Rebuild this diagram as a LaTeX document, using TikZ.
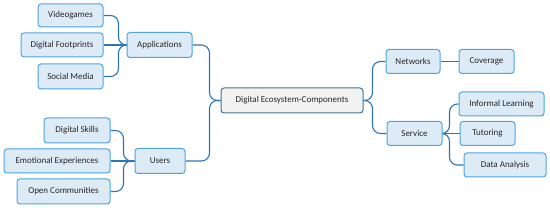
\documentclass[tikz,border=0pt]{standalone}
\usepackage{fontspec}
\setmainfont{Carlito}
\usetikzlibrary{backgrounds}
\definecolor{boxfill}{HTML}{DDEBF7}
\definecolor{boxline}{HTML}{4FA3E0}
\definecolor{conline}{HTML}{2E75B6}
\definecolor{cfill}{HTML}{F2F2F2}
\definecolor{cline}{HTML}{41719C}
\definecolor{txt}{HTML}{262626}
\tikzset{
  bx/.style={draw=boxline, fill=boxfill, line width=1pt, rounded corners=3pt, inner sep=0pt, text=txt, font=\fontsize{9}{11}\selectfont},
  cbx/.style={draw=cline, fill=cfill, line width=1pt, rounded corners=3pt, inner sep=0pt, text=txt, font=\fontsize{9}{11}\selectfont},
  conn/.style={draw=conline, line width=1.1pt, rounded corners=8pt}
}
\begin{document}
\begin{tikzpicture}[x=1pt,y=-1pt]
\useasboundingbox (0,0) rectangle (550,208);
\node[cbx, minimum width=142pt, minimum height=25pt] (ctr) at (292,100.5) {Digital Ecosystem-Components};
\node[bx, minimum width=65pt, minimum height=25pt] (app) at (159.5,45) {Applications};
\node[bx, minimum width=65pt, minimum height=23pt] (vg) at (70.5,15.5) {Videogames};
\node[bx, minimum width=82pt, minimum height=24pt] (df) at (62,45) {Digital Footprints};
\node[bx, minimum width=65pt, minimum height=25pt] (sm) at (70.5,76.5) {Social Media};
\node[bx, minimum width=50pt, minimum height=25pt] (usr) at (160,161) {Users};
\node[bx, minimum width=66pt, minimum height=25pt] (ds) at (77,130.5) {Digital Skills};
\node[bx, minimum width=106pt, minimum height=24pt] (ee) at (57,161) {Emotional Experiences};
\node[bx, minimum width=93pt, minimum height=25pt] (oc) at (63.5,191.5) {Open Communities};
\node[bx, minimum width=54pt, minimum height=24pt] (net) at (413,61.5) {Networks};
\node[bx, minimum width=55pt, minimum height=24pt] (cov) at (486.5,61.5) {Coverage};
\node[bx, minimum width=55pt, minimum height=24pt] (srv) at (414.5,133.5) {Service};
\node[bx, minimum width=85pt, minimum height=24pt] (il) at (501.5,104) {Informal Learning};
\node[bx, minimum width=55pt, minimum height=24pt] (tut) at (487.5,133.5) {Tutoring};
\node[bx, minimum width=82pt, minimum height=24pt] (da) at (505,165) {Data Analysis};
\begin{scope}[on background layer]
\draw[conn] (ctr.west) -- ++(-11,0) |- (app.east);
\draw[conn] (ctr.west) -- ++(-11,0) |- (usr.east);
\draw[conn] (app.west) -- ++(-8,0) |- (vg.east);
\draw[conn] (app.west) -- ++(-8,0) |- (sm.east);
\draw[conn] (app.west) -- (df.east);
\draw[conn] (usr.west) -- ++(-11,0) |- (ds.east);
\draw[conn] (usr.west) -- ++(-11,0) |- (oc.east);
\draw[conn] (usr.west) -- (ee.east);
\draw[conn] (ctr.east) -- ++(9,0) |- (net.west);
\draw[conn] (ctr.east) -- ++(9,0) |- (srv.west);
\draw[conn] (net.east) -- (cov.west);
\draw[conn] (srv.east) -- ++(7,0) |- (il.west);
\draw[conn] (srv.east) -- ++(7,0) |- (da.west);
\draw[conn] (srv.east) -- (tut.west);
\end{scope}
\end{tikzpicture}
\end{document}
